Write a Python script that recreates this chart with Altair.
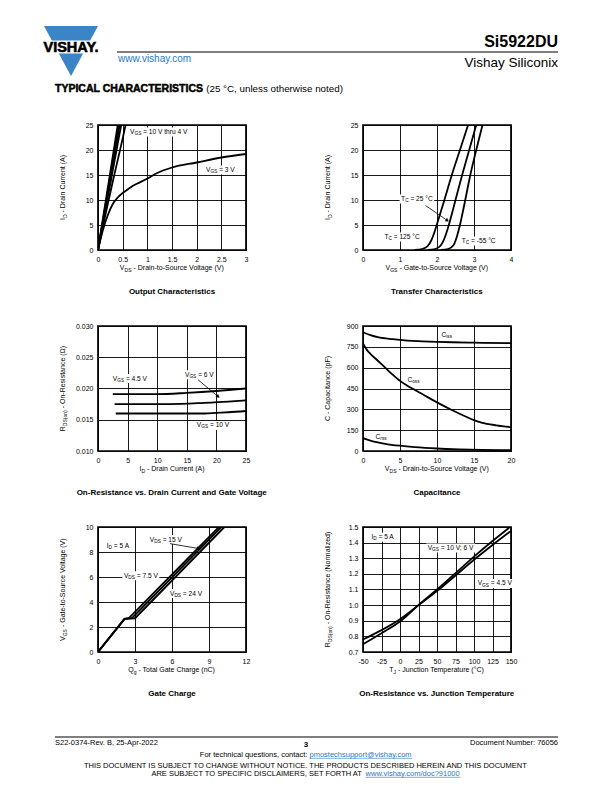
import re
import math
import altair as alt
import pandas as pd

FONT = "Liberation Sans"
BLUE = "#3b84c6"
LINK = "#1f78c8"
PW, PH = 148, 125
SUB = 0.72
LS = 6.6   # annotation font size
GAP_L, GAP_M, GAP_V = 90, 117, 76

# ---------------- data ----------------
# Output characteristics (VGS = 10 V thru 4 V, and 3 V)
o10_x = [0, 0.40]; o10_y = [0, 25]
o8_x = [0, 0.42]; o8_y = [0, 25]
o6_x = [0, 0.44]; o6_y = [0, 25]
o5_x = [0, 0.47]; o5_y = [0, 25]
o4_x = [0, 0.1, 0.2, 0.3, 0.4, 0.5, 0.56]; o4_y = [0, 4.7, 9.3, 13.7, 18.0, 22.3, 25]
o3_x = [0, 0.05, 0.1, 0.2, 0.3, 0.4, 0.5, 0.6, 0.7, 0.8, 1.0, 1.2, 1.5, 2.0, 2.5, 3.0]
o3_y = [0, 2.1, 4.0, 7.0, 9.2, 10.5, 11.4, 12.1, 12.8, 13.3, 14.3, 15.4, 16.5, 17.5, 18.5, 19.2]

# Transfer characteristics
t125_x = [1.4, 1.6, 1.75, 1.85, 1.95, 2.0, 2.2, 2.4, 2.62, 2.84]
t125_y = [0, 0.2, 0.8, 2.0, 4.0, 5.2, 10, 15, 20, 25]
t25_x = [1.75, 1.95, 2.1, 2.2, 2.3, 2.35, 2.5, 2.68, 2.87, 3.06]
t25_y = [0, 0.2, 0.9, 2.3, 4.5, 5.8, 10, 15, 20, 25]
tm55_x = [2.1, 2.3, 2.45, 2.55, 2.62, 2.75, 2.9, 3.06, 3.23]
tm55_y = [0, 0.2, 1.0, 3.0, 5.0, 9.5, 15, 20, 25]

# On-resistance vs drain current
r45_x = [2.5, 10, 15, 20, 25]; r45_y = [0.0191, 0.0191, 0.0193, 0.0196, 0.0200]
r6_x = [2.8, 12, 18, 22, 25]; r6_y = [0.0175, 0.0175, 0.0177, 0.0179, 0.0181]
r10_x = [3, 18, 20, 22, 25]; r10_y = [0.0160, 0.0160, 0.0161, 0.0162, 0.0164]

# Capacitance
ciss_x = [0, 1, 2, 4, 6, 8, 10, 12, 15, 20]
ciss_y = [855, 835, 820, 805, 795, 790, 786, 783, 780, 776]
coss_x = [0, 0.5, 1, 2, 3, 4, 5, 6, 7, 8, 10, 12, 14, 15, 16, 18, 20]
coss_y = [775, 730, 700, 650, 600, 550, 505, 470, 440, 410, 350, 295, 245, 222, 205, 185, 172]
crss_x = [0, 1, 2, 3, 5, 7, 10, 13, 16, 20]
crss_y = [92, 75, 62, 52, 38, 28, 18, 12, 8, 6]

# Gate charge
g75_x = [0, 2.15, 2.5, 9.8]; g75_y = [0, 2.65, 2.7, 10]
g15_x = [0, 2.15, 2.75, 10.0]; g15_y = [0, 2.65, 2.7, 10]
g24_x = [0, 2.15, 3.0, 10.25]; g24_y = [0, 2.65, 2.7, 10]

# On-resistance vs junction temperature
tj_x = [-50, -25, 0, 25, 50, 75, 100, 125, 150]
rt10_y = [0.75, 0.82, 0.895, 1.0, 1.10, 1.205, 1.31, 1.41, 1.505]
rt45_y = [0.78, 0.84, 0.91, 1.0, 1.09, 1.19, 1.29, 1.385, 1.475]

# ---------------- text metrics (Arial-compatible) ----------------
REG = {' ': 278, '(': 333, ')': 333, ',': 278, '-': 333, '.': 278, '/': 278, ':': 278, ';': 278,
       '=': 584, '?': 556, '@': 1015, '°': 400, 'Ω': 768, '_': 556}
for c in '0123456789':
    REG[c] = 556
for c, w in zip('ABCDEFGHIJKLMNOPQRSTUVWXYZ',
                [667, 667, 722, 722, 667, 611, 778, 722, 278, 500, 667, 556, 833, 722, 778, 667, 778, 722, 667, 611, 722, 667, 944, 667, 667, 611]):
    REG[c] = w
for c, w in zip('abcdefghijklmnopqrstuvwxyz',
                [556, 556, 500, 556, 556, 278, 556, 556, 222, 222, 500, 222, 833, 556, 556, 556, 556, 333, 500, 278, 556, 500, 722, 500, 500, 500]):
    REG[c] = w
BOLD = {' ': 278, '(': 333, ')': 333, ',': 278, '-': 333, '.': 278, ':': 333, '=': 584, '°': 400}
for c in '0123456789':
    BOLD[c] = 556
for c, w in zip('ABCDEFGHIJKLMNOPQRSTUVWXYZ',
                [722, 722, 722, 722, 667, 611, 778, 722, 278, 556, 722, 611, 833, 722, 778, 667, 778, 722, 667, 611, 722, 667, 944, 667, 667, 611]):
    BOLD[c] = w
for c, w in zip('abcdefghijklmnopqrstuvwxyz',
                [556, 611, 556, 611, 556, 333, 611, 611, 278, 278, 556, 278, 889, 611, 611, 611, 611, 389, 556, 333, 611, 556, 778, 556, 556, 500]):
    BOLD[c] = w


def text_w(t, size, bold=False):
    tab = BOLD if bold else REG
    return sum(tab.get(c, 556) for c in t) * size / 1000.0


def parse(s):
    runs, pos = [], 0
    for m in re.finditer(r'_\{([^}]*)\}', s):
        if m.start() > pos:
            runs.append((s[pos:m.start()], False))
        runs.append((m.group(1), True))
        pos = m.end()
    if pos < len(s):
        runs.append((s[pos:], False))
    return runs


def rich_width(s, size, bold=False):
    return sum(text_w(t, size * (SUB if sub else 1), bold) for t, sub in parse(s))


def rich(data, xe, ye, s, size=7.0, align='left', angle=0, bold=False, color='black', baseline='middle'):
    total = rich_width(s, size, bold)
    off = {'left': 0.0, 'center': -total / 2, 'right': -total}[align]
    layers = []
    for t, sub in parse(s):
        fs = size * SUB if sub else size
        lead = len(t) - len(t.lstrip(' '))
        core = t.strip(' ')
        if core:
            layers.append(alt.Chart(data).mark_text(
                text=core, font=FONT, fontSize=fs, fontWeight='bold' if bold else 'normal',
                color=color, align='left', baseline=baseline, angle=angle,
                dx=off + text_w(' ' * lead, fs, bold), dy=size * 0.32 if sub else 0
            ).encode(x=xe, y=ye))
        off += text_w(t, fs, bold)
    return layers


def curves(*pairs):
    rows = []
    for k, (xs, ys) in enumerate(pairs):
        for i, (a, b) in enumerate(zip(xs, ys)):
            rows.append(dict(s=k, i=i, x=a, y=b))
    return pd.DataFrame(rows)


AXC = dict(grid=True, gridColor='black', gridOpacity=1, gridWidth=0.9, ticks=False, domain=False,
           labelFont=FONT, labelFontSize=7, labelColor='black', labelPadding=5, title=None,
           labelFlush=False, labelOverlap=False)
RAW = "'' + datum.value"

PIX = pd.DataFrame({'a': [0]})


def panel(xdom, xticks, xfmt, ydom, yticks, yfmt, cdf, labels, arrows, xtitle, ytitle, caption, interp='monotone'):
    sx = alt.Scale(domain=xdom, nice=False, zero=False)
    sy = alt.Scale(domain=ydom, nice=False, zero=False)
    ax = alt.Axis(values=xticks, **({'format': xfmt} if xfmt else {'labelExpr': RAW}), **AXC)
    ay = alt.Axis(values=yticks, **({'format': yfmt} if yfmt else {'labelExpr': RAW}), **AXC)

    def X(f):
        return alt.X(f, type='quantitative', scale=sx, axis=ax)

    def Y(f):
        return alt.Y(f, type='quantitative', scale=sy, axis=ay)

    xspan = xdom[1] - xdom[0]
    yspan = ydom[1] - ydom[0]
    layers = []
    rows = []
    for txt, lx, ly in labels:
        w = rich_width(txt, LS)
        rows.append(dict(x=lx - 1.5 * xspan / PW, x2=lx + (w + 1.5) * xspan / PW,
                         y=ly - 4.5 * yspan / PH, y2=ly + 4.5 * yspan / PH))
    if rows:
        layers.append(alt.Chart(pd.DataFrame(rows)).mark_rect(color='white').encode(
            x=X('x'), x2='x2:Q', y=Y('y'), y2='y2:Q'))
    layers.append(alt.Chart(cdf).mark_line(color='black', strokeWidth=1.8, clip=True, interpolate=interp).encode(
        x=X('x'), y=Y('y'), detail='s:N', order='i:Q'))
    for txt, lx, ly in labels:
        layers += rich(pd.DataFrame({'x': [lx], 'y': [ly]}), X('x'), Y('y'), txt, size=LS)
    for x1, y1, x2, y2 in arrows:
        adf = pd.DataFrame({'x': [x1], 'y': [y1], 'x2': [x2], 'y2': [y2]})
        layers.append(alt.Chart(adf).mark_rule(color='black', strokeWidth=0.8).encode(
            x=X('x'), y=Y('y'), x2='x2:Q', y2='y2:Q'))
        vx = (x2 - x1) / xspan * PW
        vy = (y2 - y1) / yspan * PH
        ang = math.degrees(math.atan2(vx, vy)) % 360
        layers.append(alt.Chart(adf).mark_point(shape='triangle-up', filled=True, size=16, angle=ang,
                                                color='black', opacity=1).encode(x=X('x2'), y=Y('y2')))
    layers += rich(PIX, alt.value(PW / 2), alt.value(PH + 18), xtitle, size=7, align='center')
    layers += rich(PIX, alt.value(-35), alt.value(PH / 2), ytitle, size=7, align='center', angle=270)
    layers += rich(PIX, alt.value(PW / 2), alt.value(PH + 42), caption, size=8, align='center', bold=True)
    return alt.layer(*layers).properties(
        width=PW, height=PH,
        view=alt.ViewBackground(stroke='black', strokeWidth=1.7, strokeOpacity=1))


p1 = panel([0, 3], [0, 0.5, 1, 1.5, 2, 2.5, 3], None, [0, 25], [0, 5, 10, 15, 20, 25], None,
           curves((o10_x, o10_y), (o8_x, o8_y), (o6_x, o6_y), (o5_x, o5_y), (o4_x, o4_y), (o3_x, o3_y)),
           [("V_{GS} = 10 V thru 4 V", 0.65, 23.6), ("V_{GS} = 3 V", 2.19, 16.0)], [],
           "V_{DS} - Drain-to-Source Voltage (V)", "I_{D} - Drain Current (A)", "Output Characteristics")

p2 = panel([0, 4], [0, 1, 2, 3, 4], None, [0, 25], [0, 5, 10, 15, 20, 25], None,
           curves((t125_x, t125_y), (t25_x, t25_y), (tm55_x, tm55_y)),
           [("T_{C} = 25 °C", 1.03, 10.2), ("T_{C} = 125 °C", 0.58, 2.6), ("T_{C} = -55 °C", 2.67, 1.8)],
           [(1.69, 8.9, 2.28, 5.9)],
           "V_{GS} - Gate-to-Source Voltage (V)", "I_{D} - Drain Current (A)", "Transfer Characteristics")

p3 = panel([0, 25], [0, 5, 10, 15, 20, 25], None, [0.010, 0.030], [0.010, 0.015, 0.020, 0.025, 0.030], '.3f',
           curves((r45_x, r45_y), (r6_x, r6_y), (r10_x, r10_y)),
           [("V_{GS} = 4.5 V", 2.5, 0.0216), ("V_{GS} = 6 V", 14.7, 0.0222), ("V_{GS} = 10 V", 16.7, 0.0141)],
           [(16.9, 0.0214, 20.3, 0.0187)],
           "I_{D} - Drain Current (A)", "R_{DS(on)} - On-Resistance (Ω)",
           "On-Resistance vs. Drain Current and Gate Voltage")

p4 = panel([0, 20], [0, 5, 10, 15, 20], None, [0, 900], [0, 150, 300, 450, 600, 750, 900], None,
           curves((ciss_x, ciss_y), (coss_x, coss_y), (crss_x, crss_y)),
           [("C_{iss}", 10.6, 835), ("C_{oss}", 6.0, 510), ("C_{rss}", 1.7, 99)], [],
           "V_{DS} - Drain-to-Source Voltage (V)", "C - Capacitance (pF)", "Capacitance")

p5 = panel([0, 12], [0, 3, 6, 9, 12], None, [0, 10], [0, 2, 4, 6, 8, 10], None,
           curves((g75_x, g75_y), (g15_x, g15_y), (g24_x, g24_y)),
           [("I_{D} = 5 A", 0.71, 8.45), ("V_{DS} = 15 V", 4.2, 9.0), ("V_{DS} = 7.5 V", 2.1, 6.1),
            ("V_{DS} = 24 V", 5.84, 4.68)],
           [(5.84, 8.67, 8.15, 8.28)],
           "Q_{g} - Total Gate Charge (nC)", "V_{GS} - Gate-to-Source Voltage (V)", "Gate Charge",
           interp='linear')

p6 = panel([-50, 150], [-50, -25, 0, 25, 50, 75, 100, 125, 150], None, [0.7, 1.5],
           [0.7, 0.8, 0.9, 1.0, 1.1, 1.2, 1.3, 1.4, 1.5], '.1f',
           curves((tj_x, rt10_y), (tj_x, rt45_y)),
           [("I_{D} = 5 A", -38.6, 1.435), ("V_{GS} = 10 V; 6 V", 37.4, 1.365), ("V_{GS} = 4.5 V", 105, 1.139)],
           [],
           "T_{J} - Junction Temperature (°C)", "R_{DS(on)} - On-Resistance (Normalized)",
           "On-Resistance vs. Junction Temperature")


# ---------------- page texts (header / footer) ----------------
def ptext(x, y, s, size, align='left', bold=False, color='black', baseline='alphabetic', heavy=0):
    kw = dict(stroke=color, strokeWidth=heavy) if heavy else {}
    return alt.Chart(PIX).mark_text(text=s, font=FONT, fontSize=size, fontWeight='bold' if bold else 'normal',
                                    color=color, align=align, baseline=baseline, **kw).encode(
        x=alt.value(x), y=alt.value(y))


def prule(x1, x2, y, width=1.0, color='black'):
    return alt.Chart(PIX).mark_rule(color=color, strokeWidth=width).encode(
        x=alt.value(x1), x2=alt.value(x2), y=alt.value(y))


def parts_line(parts, cx, y, size):
    widths = [text_w(t, size, b) for t, c, b, u in parts]
    x0 = cx - sum(widths) / 2
    out = []
    for (t, c, b, u), w in zip(parts, widths):
        lead = len(t) - len(t.lstrip(' '))
        core = t.strip(' ')
        if core:
            out.append(ptext(x0 + text_w(' ' * lead, size, b), y, core, size, bold=b, color=c))
        if u:
            out.append(prule(x0, x0 + w, y + 1.3, 0.6, c))
        x0 += w
    return out


# header, drawn in the first grid cell; its origin sits 117 px above the first panel row
HY = -(GAP_V + 41)
logo_x = [36, 63, 90]
logo_top = [18, 18, 18]
logo_bot = [18, 68, 18]
hx = alt.Scale(domain=[0, 100], range=[0, 100])
hy = alt.Scale(domain=[0, 100], range=[HY, HY + 100])
tc_w = text_w("TYPICAL CHARACTERISTICS", 10.5, True)
header_layers = [
    alt.Chart(PIX).mark_rect(color='white').encode(x=alt.value(0), x2=alt.value(1),
                                                  y=alt.value(HY), y2=alt.value(HY + 1)),
    alt.Chart(pd.DataFrame({'x': logo_x, 'top': logo_top, 'bot': logo_bot})).mark_area(color=BLUE).encode(
        x=alt.X('x:Q', scale=hx, axis=None), y=alt.Y('top:Q', scale=hy, axis=None), y2='bot:Q'),
    alt.Chart(PIX).mark_rect(color='white').encode(x=alt.value(30), x2=alt.value(96),
                                                  y=alt.value(HY + 32.5), y2=alt.value(HY + 45.5)),
    ptext(63, HY + 39.5, "VISHAY.", 14.5, align='center', bold=True, baseline='middle', heavy=0.6),
    ptext(110, HY + 54, "www.vishay.com", 10, color=LINK),
    prule(109, 550, HY + 44, 1.2),
    ptext(550, HY + 38.5, "Si5922DU", 16, align='right', bold=True),
    ptext(550, HY + 58.5, "Vishay Siliconix", 13.5, align='right'),
    ptext(47, HY + 84, "TYPICAL CHARACTERISTICS", 10.5, bold=True, heavy=0.5),
    ptext(47 + tc_w + 3, HY + 84, "(25 °C, unless otherwise noted)", 9.8),
]
header_cell = alt.layer(*header_layers).properties(width=GAP_L, height=PH)

# footer, drawn in the third-row first cell; its origin sits 201 px below that row's top
FY = PH + GAP_V
FS = 7.5
footer_layers = [
    prule(47, 550, FY + 9, 1.0),
    ptext(47, FY + 17, "S22-0374-Rev. B, 25-Apr-2022", FS),
    ptext(298, FY + 19, "3", 8, align='center', bold=True),
    ptext(550, FY + 17, "Document Number: 76056", FS, align='right'),
]
footer_layers += parts_line([("For technical questions, contact: ", 'black', False, False),
                             ("pmostechsupport@vishay.com", LINK, False, True)], 298, FY + 29, FS)
footer_layers += parts_line([("THIS DOCUMENT IS SUBJECT TO CHANGE WITHOUT NOTICE. THE PRODUCTS DESCRIBED HEREIN AND THIS DOCUMENT",
                              'black', False, False)], 298, FY + 40, FS)
footer_layers += parts_line([("ARE SUBJECT TO SPECIFIC DISCLAIMERS, SET FORTH AT ", 'black', False, False),
                             ("www.vishay.com/doc?91000", LINK, False, True)], 298, FY + 48, FS)
footer_cell = alt.layer(*footer_layers).properties(width=GAP_L, height=PH)


def spacer(w):
    return alt.Chart(PIX).mark_point(opacity=0).encode(
        x=alt.value(w / 2), y=alt.value(PH / 2)).properties(width=w, height=PH)


cells = [header_cell, p1, spacer(GAP_M), p2,
         spacer(GAP_L), p3, spacer(GAP_M), p4,
         footer_cell, p5, spacer(GAP_M), p6]

chart = alt.concat(*cells, columns=4, spacing={'row': GAP_V, 'column': 0}, bounds='flush').properties(
    padding=0, background='white').configure_view(strokeOpacity=0)

chart.save("out.html", embed_options={"renderer": "svg", "actions": False})
